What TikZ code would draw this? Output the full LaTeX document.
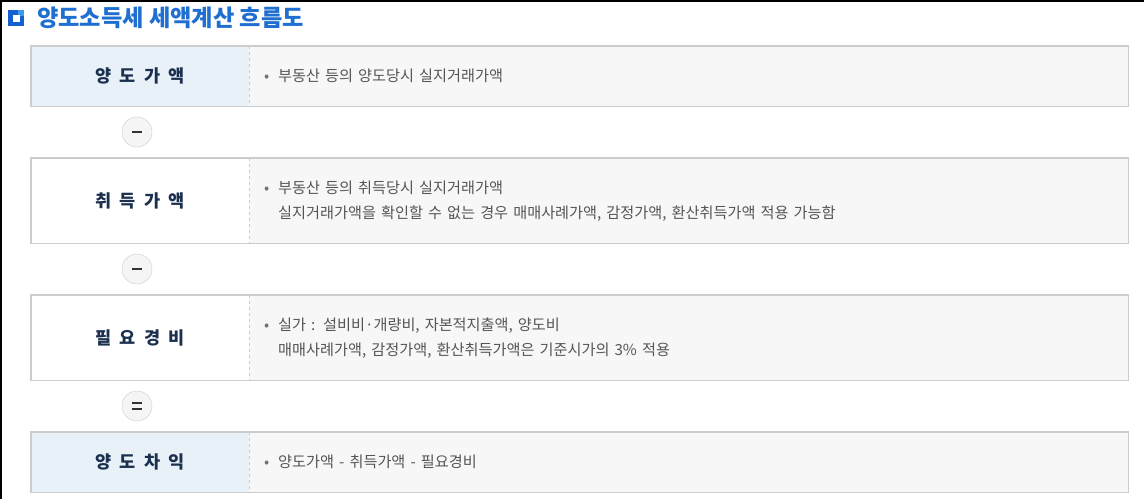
\documentclass[tikz,border=0pt]{standalone}
\usepackage{fontspec}
\setmainfont{Noto Sans CJK KR}
\newfontfamily\headfont[WordSpace=2.1]{Noto Sans CJK KR}
\usetikzlibrary{positioning}
\definecolor{titleblue}{HTML}{1F6FD0}
\definecolor{iconblue}{HTML}{1560D0}
\definecolor{iconlight}{HTML}{3A9BE8}
\definecolor{headfill}{HTML}{E8F0F8}
\definecolor{bodyfill}{HTML}{F7F7F7}
\definecolor{cellline}{HTML}{CCCCCC}
\definecolor{headtext}{HTML}{1B2F4F}
\definecolor{bodytext}{HTML}{555555}
\tikzstyle{title}=[anchor=west,inner sep=0pt,text=titleblue,font=\fontsize{23.2}{26}\selectfont\bfseries]
\tikzstyle{headcell}=[rectangle,minimum width=218pt,inner sep=0pt,anchor=north west,font=\headfont\fontsize{17.5}{20}\selectfont\bfseries,text=headtext]
\tikzstyle{bodycell}=[rectangle,fill=bodyfill,minimum width=879pt,text width=849pt,inner xsep=15pt,inner ysep=0pt,anchor=north west,align=left,font=\fontsize{15.2}{25}\selectfont,text=bodytext]
\tikzstyle{opcircle}=[circle,fill=black!4,draw=cellline,minimum size=30pt,inner sep=0pt]
\tikzstyle{sign}=[draw,line width=2.2pt,black!80]
\tikzstyle{frame}=[draw=cellline,line width=1.2pt]
\tikzstyle{divider}=[draw=cellline,dashed,line width=0.8pt]
\newcommand{\bul}{\makebox[14pt][l]{\color{black!55}•}}
\newcommand{\ind}{\hspace*{14pt}}

\begin{document}
\begin{tikzpicture}[x=1pt,y=-1pt]
    \useasboundingbox (0,0) rectangle (1144,499);
    \draw[black,line width=2pt] (1,0) -- (1,499);
    \draw[black,line width=1.5pt] (0,0.75) -- (1144,0.75);

    % title with icon
    \fill[iconblue] (8,10) rectangle (24,26);
    \fill[iconlight] (18,10) rectangle (24,16);
    \fill[white] (13,15) rectangle (20,22);
    \node[title] (title) at (37,18) {양도소득세 세액계산 흐름도};

    \foreach \y/\h/\name/\cellfill/\head/\body in {%
        {46/60/sell/headfill/{양 도 가 액}/{\bul 부동산 등의 양도당시 실지거래가액}},
        {158/85/buy/white/{취 득 가 액}/{\bul 부동산 등의 취득당시 실지거래가액\\\ind 실지거래가액을 확인할 수 없는 경우 매매사례가액, 감정가액, 환산취득가액 적용 가능함}},
        {295/85/cost/white/{필 요 경 비}/{\bul 실가 : 설비비·개량비, 자본적지출액, 양도비\\\ind 매매사례가액, 감정가액, 환산취득가액은 기준시가의 3\% 적용}},
        {432/60/gain/headfill/{양 도 차 익}/{\bul 양도가액 - 취득가액 - 필요경비}}}
    {
        \node[headcell,fill=\cellfill,minimum height=\h] (\name-h) at (31,\y) {\head};
        \node[bodycell,minimum height=\h] (\name-b) at (249,\y) {\body};
        \draw[frame] (\name-h.north west) rectangle (\name-b.south east);
        \draw[divider] (\name-h.north east) -- (\name-h.south east);
    }

    \foreach \pos/\name in {{(137,132)/minus1}, {(137,269)/minus2}, {(137,406)/equal}}
        \node[opcircle] (\name) at \pos {};

    \foreach \name in {minus1, minus2}
        \draw[sign] ([xshift=-5]\name.center) -- ([xshift=5]\name.center);
    \draw[sign] ([shift={(-5,-3)}]equal.center) -- ([shift={(5,-3)}]equal.center);
    \draw[sign] ([shift={(-5,3)}]equal.center) -- ([shift={(5,3)}]equal.center);

\end{tikzpicture}
\end{document}
